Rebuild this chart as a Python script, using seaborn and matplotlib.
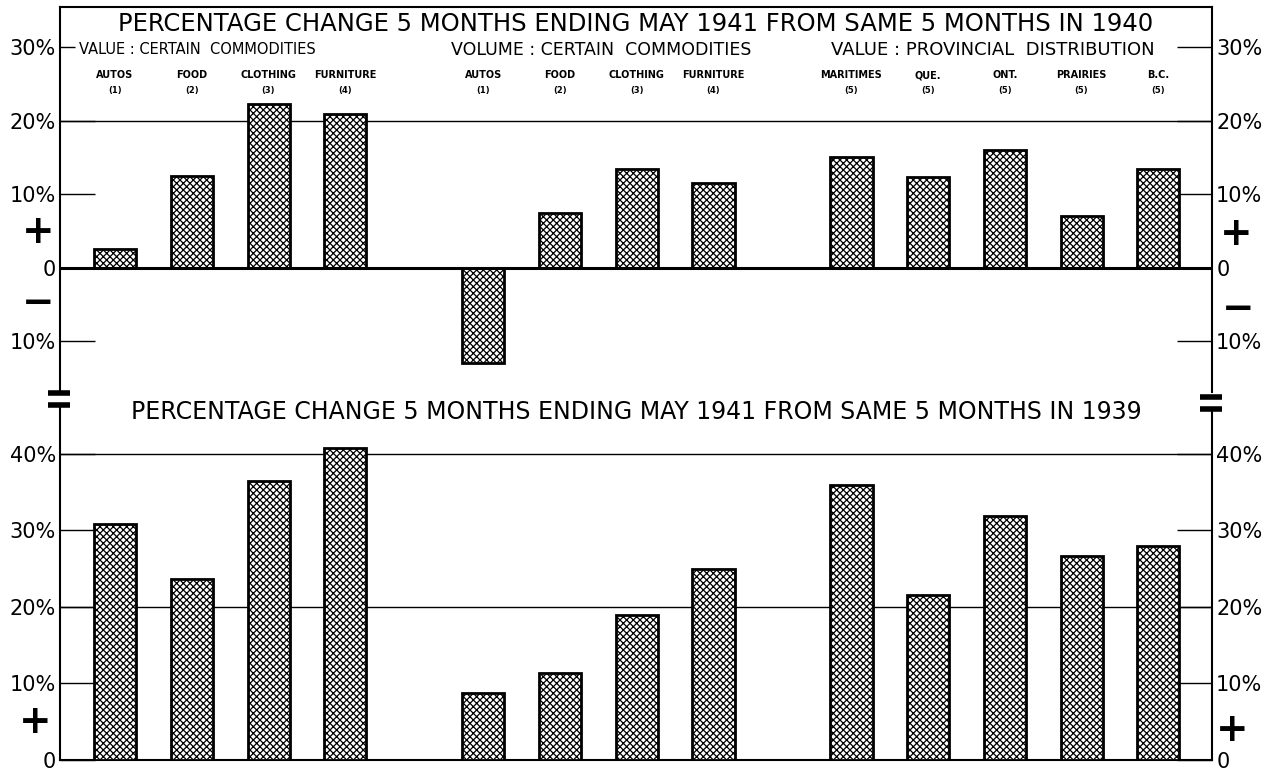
import numpy as np
import pandas as pd
import seaborn as sns
import matplotlib.pyplot as plt
from matplotlib.lines import Line2D

# bar labels (left to right) and footnote marks
categories = ['AUTOS', 'FOOD', 'CLOTHING', 'FURNITURE',
              'AUTOS', 'FOOD', 'CLOTHING', 'FURNITURE',
              'MARITIMES', 'QUE.', 'ONT.', 'PRAIRIES', 'B.C.']
notes = ['(1)', '(2)', '(3)', '(4)',
         '(1)', '(2)', '(3)', '(4)',
         '(5)', '(5)', '(5)', '(5)', '(5)']
group_names = ['VALUE : CERTAIN  COMMODITIES',
               'VOLUME : CERTAIN  COMMODITIES',
               'VALUE : PROVINCIAL  DISTRIBUTION']
group_sizes = [4, 4, 5]

# percentage change, 5 months ending May 1941
change_vs_1940 = [2.6, 12.5, 22.3, 21.0, -12.9, 7.4, 13.4, 11.6, 15.1, 12.4, 16.1, 7.1, 13.5]
change_vs_1939 = [30.8, 23.6, 36.5, 40.8, 8.8, 11.4, 19.0, 24.9, 36.0, 21.5, 31.9, 26.6, 28.0]

top_ticks = [-10, 0, 10, 20, 30]
top_ticklabels = ['10%', '0', '10%', '20%', '30%']
bot_ticks = [0, 10, 20, 30, 40]
bot_ticklabels = ['0', '10%', '20%', '30%', '40%']

title_1940 = 'PERCENTAGE CHANGE 5 MONTHS ENDING MAY 1941 FROM SAME 5 MONTHS IN 1940'
title_1939 = 'PERCENTAGE CHANGE 5 MONTHS ENDING MAY 1941 FROM SAME 5 MONTHS IN 1939'

# x positions: groups separated by a wider gap
group_offset = [0, 4.8, 9.6]
pos = []
for g, n in enumerate(group_sizes):
    pos += [group_offset[g] + i for i in range(n)]
group_center = [1.08, 6.34, 11.45]
group_fs = [10.5, 12.5, 13]

sns.set_style('white')
plt.rcParams['font.family'] = ['DejaVu Sans']
plt.rcParams['text.color'] = 'black'
plt.rcParams['ytick.color'] = 'black'
plt.rcParams['hatch.linewidth'] = 0.9

W, H = 1272, 772
fig = plt.figure(figsize=(W / 100, H / 100), dpi=100)

def frac(px_x, px_y):
    return px_x / W, 1 - px_y / H

def xpix(p):
    return (115 + p * 76.7) / W

x0, x1 = 60, 1212
ax1 = fig.add_axes([x0 / W, 1 - 392 / H, (x1 - x0) / W, (392 - 7) / H])
ax2 = fig.add_axes([x0 / W, 1 - 760 / H, (x1 - x0) / W, (760 - 408) / H])

df_top = pd.DataFrame({'pos': pos, 'change': change_vs_1940})
df_bot = pd.DataFrame({'pos': pos, 'change': change_vs_1939})

for ax, df in [(ax1, df_top), (ax2, df_bot)]:
    sns.barplot(data=df, x='pos', y='change', native_scale=True, width=0.55,
                color='white', saturation=1, edgecolor='black', linewidth=2,
                hatch='xxxxx', errorbar=None, ax=ax, zorder=3)
    ax.set_xlim(-0.72, 14.30)
    ax.set_xticks([])
    ax.set_xlabel('')
    ax.set_ylabel('')
    ax.tick_params(axis='y', direction='in', length=25, width=1,
                   left=True, right=True, labelleft=True, labelright=True,
                   labelsize=15, pad=3, labelcolor='black')
    for s in ['left', 'right']:
        ax.spines[s].set_linewidth(1.5)
        ax.spines[s].set_color('black')

# upper panel
ax1.set_ylim(-16.9, 35.5)
ax1.set_yticks(top_ticks, top_ticklabels)
ax1.axhline(20, color='black', lw=1, zorder=1)
ax1.axhline(0, color='black', lw=2.2, zorder=4)
ax1.spines['bottom'].set_visible(False)
ax1.spines['top'].set_linewidth(1.5)
ax1.spines['top'].set_color('black')
# the 30% tick on the left is only a short stub
ax1.yaxis.get_major_ticks()[-1].tick1line.set_markersize(11)

for c, n, p in zip(categories, notes, pos):
    fig.text(xpix(p), 1 - 75 / H, c, ha='center', va='center',
             fontsize=7, fontweight='bold')
    fig.text(xpix(p), 1 - 90 / H, n, ha='center', va='center',
             fontsize=6, fontweight='bold')
for name, gc, fs in zip(group_names, group_center, group_fs):
    fig.text(xpix(gc), 1 - 50 / H, name, ha='center', va='center', fontsize=fs)
fig.text(0.5, 1 - 24 / H, title_1940, ha='center', va='center', fontsize=17.5)

# lower panel
ax2.set_ylim(0, 46)
ax2.set_yticks(bot_ticks, bot_ticklabels)
ax2.axhline(20, color='black', lw=1, zorder=1)
ax2.axhline(40, color='black', lw=1, zorder=1)
ax2.spines['top'].set_visible(False)
ax2.spines['bottom'].set_linewidth(1.5)
ax2.spines['bottom'].set_color('black')
fig.text(0.5, 1 - 412 / H, title_1939, ha='center', va='center', fontsize=17)

# plus / minus signs beside the scales
for px, py, s in [(38, 232, '+'), (38, 303, '\u2212'), (1236, 234, '+'),
                  (1238, 309, '\u2212'), (35, 722, '+'), (1232, 730, '+')]:
    x, y = frac(px, py)
    fig.text(x, y, s, ha='center', va='center', fontsize=28, fontweight='heavy')

# broken-axis marks
for xa, xb, ys in [(48, 70, (393, 405)), (1200, 1222, (397, 409))]:
    for yy in ys:
        fig.add_artist(Line2D([xa / W, xb / W], [1 - yy / H, 1 - yy / H],
                              color='black', lw=4, solid_capstyle='butt'))

fig.savefig('out.png', dpi=100, facecolor='white')
